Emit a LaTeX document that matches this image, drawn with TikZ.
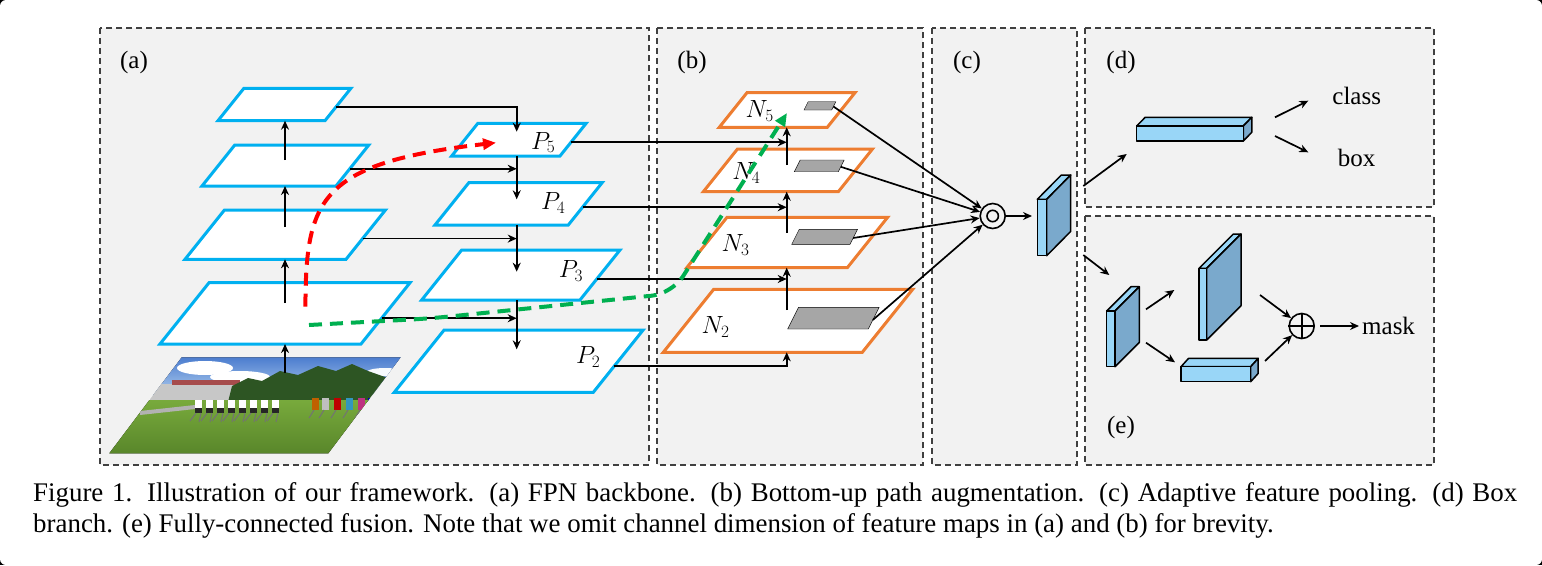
\documentclass[tikz,border=0pt]{standalone}
\usepackage{fontspec}
\setmainfont{Liberation Serif}
\usetikzlibrary{arrows.meta,calc,positioning}

\definecolor{panelgray}{RGB}{242,242,242}
\definecolor{dashgray}{RGB}{64,64,64}
\definecolor{fpncyan}{RGB}{0,176,240}
\definecolor{augorange}{RGB}{237,125,49}
\definecolor{roigray}{RGB}{166,166,166}
\definecolor{cubelight}{RGB}{153,214,247}
\definecolor{cubedark}{RGB}{122,169,204}
\definecolor{pathred}{RGB}{255,0,0}
\definecolor{pathgreen}{RGB}{0,176,80}
\definecolor{skyblue}{RGB}{70,120,205}
\definecolor{skylight}{RGB}{175,205,238}
\definecolor{treegreen}{RGB}{45,85,35}
\definecolor{grassgreen}{RGB}{120,170,60}
\definecolor{grassdark}{RGB}{85,130,40}

\tikzset{
	every node/.style={
		font=\fontsize{25}{29}\selectfont
	},
	panel/.style={
		draw=dashgray,
		fill=panelgray,
		line width=1.2pt,
		dash pattern=on 6pt off 4pt
	},
	fpn/.style={
		draw=fpncyan,
		fill=white,
		line width=3pt
	},
	aug/.style={
		draw=augorange,
		fill=white,
		line width=3pt
	},
	roi/.style={
		fill=roigray
	},
	link/.style={
		->,
		line width=1.7pt
	},
	shortcut/.style={
		line width=4pt,
		dash pattern=on 13pt off 8pt,
		-{Triangle[length=13pt,width=11pt]}
	},
	cubeline/.style={
		draw=black,
		line width=1.5pt,
		line join=round
	},
	maplabel/.style={
		font=\fontsize{26}{29}\selectfont
	},
	opnode/.style={
		shape=circle,
		draw,
		line width=1.6pt,
		minimum size=25pt,
		inner sep=0pt
	}
}

% feature map: [slant]{style}{name}{x}{y}{width}{height}, (x,y) is the bottom left corner
\newcommand{\fmap}[7][0.8]{%
	\draw[#2] (#4,#5) coordinate (#3-bl) -- ++(#6,0) coordinate (#3-br)
		-- ++({#1*#7},-#7) coordinate (#3-tr) -- ++(-#6,0) coordinate (#3-tl) -- cycle;
	\coordinate (#3-e) at ($(#3-br)!0.42!(#3-tr)$);
}
% feature block: {name}{x}{y}{width}{height}{depth}{rise}, (x,y) is the top left of the front face
\newcommand{\fcube}[7]{%
	\draw[cubeline, fill=cubelight] (#2,#3) -- ++(#6,-#7) -- ++(#4,0) -- ++(-#6,#7) -- cycle;
	\draw[cubeline, fill=cubedark] (#2+#4,#3) -- ++(#6,-#7) -- ++(0,#5) -- ++(-#6,#7) -- cycle;
	\draw[cubeline, fill=cubelight] (#2,#3) rectangle ++(#4,#5);
	\coordinate (#1) at (#2+#4/2,#3+#5/2);
}

\begin{document}
\begin{tikzpicture}[x=1pt,y=-1pt,>={Stealth[length=9pt,width=8pt]}]
	\useasboundingbox (0,0) rectangle (1542,565);
	\fill[black] (0,0) rectangle (1542,565);
	\fill[white, rounded corners=6pt] (0,0) rectangle (1542,565);
	
	% panels
	\draw[panel] (100,28) rectangle (649,465);
	\draw[panel] (657,28) rectangle (923,465);
	\draw[panel] (932,28) rectangle (1077,465);
	\draw[panel] (1085,28) rectangle (1434,207);
	\draw[panel] (1085,216) rectangle (1434,465);
	\node (tag a) at (134,62) {(a)};
	\node (tag b) at (692,62) {(b)};
	\node (tag c) at (967,62) {(c)};
	\node (tag d) at (1121,62) {(d)};
	\node (tag e) at (1121,427) {(e)};
	
	% (a) input image
	\fmap[0.754]{draw=none}{img}{109.3}{453.3}{219}{96}
	\begin{scope}
		\clip (img-bl) -- (img-br) -- (img-tr) -- (img-tl) -- cycle;
		\fill[top color=skyblue, bottom color=skylight] (100,355) rectangle (420,395);
		\fill[white] (205,368) ellipse [x radius=28, y radius=7];
		\fill[white] (240,377) ellipse [x radius=30, y radius=6];
		\fill[white!90!skylight] (385,372) ellipse [x radius=18, y radius=4];
		\fill[black!22] (150,384) rectangle (268,402);
		\fill[red!50!black!70] (172,380) rectangle (240,385);
		\fill[treegreen] (228,402) -- (232,386) -- (248,378) -- (262,381) -- (280,371) -- (298,375)
			-- (318,366) -- (336,371) -- (352,364) -- (368,371) -- (385,377) -- (402,384) -- (402,402) -- cycle;
		\fill[top color=grassgreen, bottom color=grassdark] (100,400) rectangle (420,460);
		\fill[black!30] (140,411) -- (195,405) -- (195,409) -- (140,415) -- cycle;
		\foreach \x in {195,206,217,228,239,250,261,272} {
			\fill[white] (\x,400) rectangle ++(7,8);
			\fill[black!85] (\x,408) rectangle ++(7,5);
			\draw[black!55, line width=1pt] (\x+1,413) -- ++(-6,8) (\x+6,413) -- ++(-2,9);
		}
		\foreach \x/\c in {312/orange, 322/white, 334/red, 346/cyan, 358/magenta, 368/blue, 376/red} {
			\fill[\c!75!black] (\x,398) rectangle ++(7,12);
			\draw[black!55, line width=1pt] (\x+2,410) -- ++(-5,8);
		}
	\end{scope}
	
	% (a) backbone and top-down maps
	\fmap{fpn}{C5}{218}{120.7}{107}{32.4}
	\fmap{fpn}{C4}{202}{186}{134}{41}
	\fmap{fpn}{C3}{185}{259.3}{161}{49.3}
	\fmap{fpn}{C2}{160}{344}{201}{61.3}
	\fmap{fpn}{P5}{451.7}{156}{108.3}{32.7}
	\fmap{fpn}{P4}{435}{225}{133.3}{42.3}
	\fmap{fpn}{P3}{421.7}{300}{158.3}{50}
	\fmap{fpn}{P2}{394.3}{392.3}{199}{62.3}
	
	% (b) bottom-up maps with pooled regions
	\fmap{aug}{N5}{719.3}{127.3}{108}{34.6}
	\fmap{aug}{N4}{703.3}{191.7}{135}{42.7}
	\fmap{aug}{N3}{686.7}{267.7}{160.6}{50.4}
	\fmap{aug}{N2}{663.3}{352.3}{199}{63}
	\fmap[0.5]{roi}{R5}{804}{110}{27.7}{8.3}
	\fmap[0.5]{roi}{R4}{794.3}{171.7}{44}{11.7}
	\fmap[0.5]{roi}{R3}{791.7}{244.3}{58.3}{15}
	\fmap[0.5]{roi}{R2}{787.7}{329}{80.6}{21.7}
	
	% bottom-up arrows of the backbone
	\coordinate (img-up) at (285,373);
	\coordinate (C2-up) at (285,303);
	\coordinate (C3-up) at (285,227);
	\coordinate (C4-up) at (285,160);
	\draw[link] (img-up) -- (img-up |- C2-bl);
	\draw[link] (C2-up) -- (C2-up |- C3-bl);
	\draw[link] (C3-up) -- (C3-up |- C4-bl);
	\draw[link] (C4-up) -- (C4-up |- C5-bl);
	
	% top-down pathway
	\coordinate (P5-in) at (516.7,131.7);
	\coordinate (P4-in) at (516.7,199.3);
	\coordinate (P3-in) at (516.7,271.7);
	\coordinate (P2-in) at (516.7,349.3);
	\draw[link] (C5-e) -| (P5-in);
	\draw[link] (P4-in |- P5-bl) -- (P4-in);
	\draw[link] (P3-in |- P4-bl) -- (P3-in);
	\draw[link] (P2-in |- P3-bl) -- (P2-in);
	\draw[link] (C4-e) -- (C4-e -| P5-in);
	\draw[link] (C3-e) -- (C3-e -| P5-in);
	\draw[link] (C2-e) -- (C2-e -| P5-in);
	
	% bottom-up path augmentation
	\coordinate (N2-up) at (786.7,310);
	\coordinate (N3-up) at (786.7,232.7);
	\coordinate (N4-up) at (786.7,165);
	\draw[link] (N2-up) -- (N2-up |- N3-bl);
	\draw[link] (N3-up) -- (N3-up |- N4-bl);
	\draw[link] (N4-up) -- (N4-up |- N5-bl);
	\draw[link] (P5-e) -- (P5-e -| N4-up);
	\draw[link] (P4-e) -- (P4-e -| N3-up);
	\draw[link] (P3-e) -- (P3-e -| N2-up);
	\draw[link] (P2-e) -| (N2-up |- N2-bl);
	
	% (c) adaptive feature pooling
	\node[opnode] (pool) at (992.7,216) {};
	\draw[line width=1.6pt] (pool.center) circle [radius=5.7];
	\foreach \r in {R5,R4,R3,R2}
		\draw[link] (\r-e) -- (pool);
	\fcube{roifeat}{1037.3}{199.3}{9.4}{56.4}{24}{24.3}
	\draw[link, shorten >=10pt] (pool) -- (pool -| roifeat);
	
	% (d) box branch
	\fcube{boxfc}{1136.7}{126}{106.6}{15}{8.5}{8.7}
	\node (cls) at (1356.7,96) {class};
	\node (bbox) at (1356.7,158.3) {box};
	\coordinate (feat-d) at (1083.3,186);
	\coordinate (boxfc-in) at (1126.7,154);
	\coordinate (boxfc-cls) at (1275,117.3);
	\coordinate (cls-tip) at (1308.3,100.7);
	\coordinate (boxfc-box) at (1275,136);
	\coordinate (bbox-tip) at (1308.3,152.3);
	\draw[link] (feat-d) -- (boxfc-in);
	\draw[link] (boxfc-cls) -- (cls-tip);
	\draw[link] (boxfc-box) -- (bbox-tip);
	
	% (e) fully-connected fusion
	\fcube{maskin}{1106.7}{311}{8.3}{55.7}{24.3}{24.3}
	\fcube{maskconv}{1199}{268.3}{7.7}{71.7}{34.3}{34.3}
	\fcube{maskfc}{1181}{366.7}{69.7}{15}{7.5}{8.3}
	\node[opnode] (fuse) at (1301.7,326) {};
	\draw[line width=1.6pt] (fuse.north) -- (fuse.south) (fuse.west) -- (fuse.east);
	\node[anchor=west, inner sep=0pt] (mask) at (1362,326) {mask};
	\coordinate (feat-e) at (1083.3,255);
	\coordinate (maskin-in) at (1109.3,275);
	\coordinate (maskin-a) at (1146,309.3);
	\coordinate (maskconv-in) at (1174.3,290);
	\coordinate (maskin-b) at (1146,342.7);
	\coordinate (maskfc-in) at (1175,362.3);
	\coordinate (maskconv-out) at (1260,295);
	\coordinate (maskfc-out) at (1265,361);
	\draw[link] (feat-e) -- (maskin-in);
	\draw[link] (maskin-a) -- (maskconv-in);
	\draw[link] (maskin-b) -- (maskfc-in);
	\draw[link] (maskconv-out) -- (fuse);
	\draw[link] (maskfc-out) -- (fuse);
	\draw[link, shorten <=5pt, shorten >=3pt] (fuse) -- (mask);
	
	% level labels
	\node[maplabel] (P5-lab) at (543.3,142.5) {$P_5$};
	\node[maplabel] (P4-lab) at (553.3,203.3) {$P_4$};
	\node[maplabel] (P3-lab) at (571,270.7) {$P_3$};
	\node[maplabel] (P2-lab) at (588.3,356.7) {$P_2$};
	\node[maplabel] (N5-lab) at (759.7,111.3) {$N_5$};
	\node[maplabel] (N4-lab) at (746.3,173.3) {$N_4$};
	\node[maplabel] (N3-lab) at (735.5,244.7) {$N_3$};
	\node[maplabel] (N2-lab) at (715.5,326.7) {$N_2$};
	
	% shortcut paths
	\coordinate (red-start) at (305.4,306.7);
	\coordinate (red-end) at (496,142.7);
	\draw[shortcut, pathred] (red-start) .. controls (306,200) and (318,163) .. (red-end);
	\coordinate (green-start) at (309,325);
	\coordinate (green-mid) at (430,318.5);
	\coordinate (green-bend) at (672,293.6);
	\coordinate (green-end) at (787,113);
	\draw[shortcut, pathgreen, rounded corners=20pt] (green-start) -- (green-mid) -- (green-bend) -- (green-end);
	
	% caption
	\node[anchor=north west, inner sep=0pt, text width=1484pt, align=justify,
		font=\fontsize{26.9}{31.5}\selectfont] (caption) at (33,482)
		{Figure 1. Illustration of our framework.  (a) FPN backbone.  (b) Bottom-up path augmentation.  (c) Adaptive feature pooling.  (d) Box\linebreak
		branch. (e) Fully-connected fusion. Note that we omit channel dimension of feature maps in (a) and (b) for brevity.};
\end{tikzpicture}
\end{document}
